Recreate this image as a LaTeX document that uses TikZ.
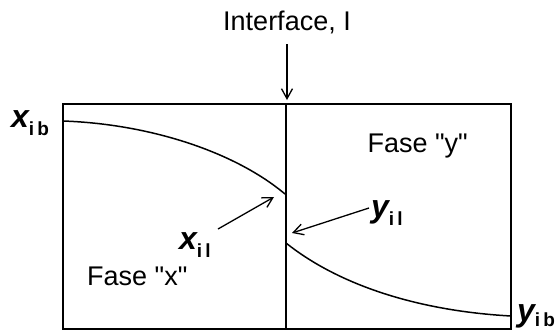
\documentclass[tikz,border=0pt]{standalone}
\usepackage{fontspec}
\setmainfont{Liberation Sans}
\usetikzlibrary{arrows.meta}
\newcommand{\varlbl}[3]{{\fontsize{32}{34}\selectfont\bfseries\itshape #1}\raisebox{-8pt}{\fontsize{19}{21}\selectfont\bfseries #2\hspace{3pt}#3}}
\newcommand{\varlblb}[3]{{\fontsize{32}{34}\selectfont\bfseries\itshape #1}\raisebox{-5pt}{\fontsize{19}{21}\selectfont\bfseries #2\hspace{3pt}#3}}
\begin{document}
\begin{tikzpicture}[x=1pt,y=-1pt,
  lbl/.style={font=\fontsize{27}{29}\selectfont, inner sep=0pt},
  ptr/.style={line width=1.3pt, -{Straight Barb[length=10pt,width=11pt]}},
  thinline/.style={line width=1.5pt}]
\useasboundingbox (0,0) rectangle (558,333);
\draw[thinline] (63,104) rectangle (511,329);
\coordinate (itop) at (286,104);
\coordinate (ibot) at (286,329);
\draw[line width=2.8pt] (itop) -- (ibot);
\node[lbl, anchor=base] (ilabel) at (287,30) {Interface, I};
\coordinate (astart) at (287,44);
\coordinate (aend) at (287,100);
\draw[ptr] (astart) -- (aend);
% curves
\coordinate (xb) at (63,121);
\coordinate (xI) at (285,194);
\coordinate (yI) at (286,243);
\coordinate (yb) at (511,316);
\draw[thinline] (xb) .. controls (150,124) and (235,152) .. (xI);
\draw[thinline] (yI) .. controls (340,286) and (420,311) .. (yb);
% labels
\node[anchor=base west, inner sep=0pt] (xiblbl) at (11,127) {\varlbl{x}{i}{b}};
\node[anchor=base west, inner sep=0pt] (yiblbl) at (517,321) {\varlblb{y}{i}{b}};
\node[anchor=base west, inner sep=0pt] (xillbl) at (179,249) {\varlbl{x}{i}{l}};
\node[anchor=base west, inner sep=0pt] (yillbl) at (371,217) {\varlbl{y}{i}{l}};
\node[lbl, anchor=base west] (fx) at (87,285) {Fase \textquotedbl x\textquotedbl};
\node[lbl, anchor=base east] (fy) at (468,152) {Fase \textquotedbl y\textquotedbl};
% pointers
\coordinate (xt) at (218,229);
\coordinate (xh) at (274,197);
\draw[ptr] (xt) -- (xh);
\coordinate (yt) at (369,208);
\coordinate (yh) at (292,233);
\draw[ptr] (yt) -- (yh);
\end{tikzpicture}
\end{document}
